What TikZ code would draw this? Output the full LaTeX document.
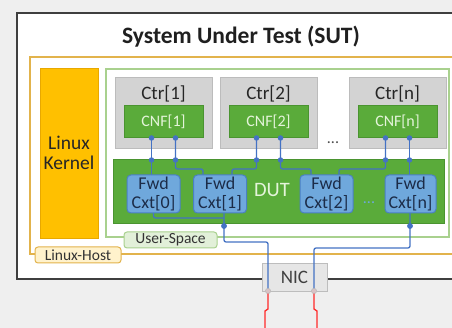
\documentclass[tikz,border=0pt]{standalone}
\usepackage{fontspec}
\setmainfont{Carlito}
\definecolor{bgc}{HTML}{EFEFEF}
\definecolor{sutc}{HTML}{3F3F3F}
\definecolor{hostc}{HTML}{E2B34C}
\definecolor{hostf}{HTML}{FFF2CC}
\definecolor{kernf}{HTML}{FFC000}
\definecolor{kernd}{HTML}{E8A800}
\definecolor{userc}{HTML}{A9D18E}
\definecolor{userf}{HTML}{E2F0D9}
\definecolor{dutf}{HTML}{5AAB3A}
\definecolor{dutd}{HTML}{4A9430}
\definecolor{ctrf}{HTML}{D3D3D3}
\definecolor{ctrd}{HTML}{BCBCBC}
\definecolor{cnft}{HTML}{E4F4DA}
\definecolor{fwdf}{HTML}{6FA8DC}
\definecolor{fwdd}{HTML}{4A80C4}
\definecolor{fwdt}{HTML}{1C2C48}
\definecolor{wirec}{HTML}{4472C4}
\definecolor{nicf}{HTML}{E6E6E6}
\definecolor{nicd}{HTML}{BDBDBD}
\definecolor{nicp}{HTML}{D9C3C6}
\definecolor{redc}{HTML}{FF2A2A}
\tikzset{
  box/.style={rectangle,inner sep=0pt},
  sutbox/.style={box,draw=sutc,line width=2pt,fill=white},
  hostbox/.style={box,draw=hostc,line width=1.3pt},
  kernbox/.style={box,draw=kernd,line width=0.8pt,fill=kernf,align=center,font=\fontsize{19.5}{20}\selectfont,text=black!85},
  userbox/.style={box,draw=userc,line width=1.3pt},
  tagbox/.style={box,rounded corners=3pt,line width=1pt,font=\fontsize{15.5}{16}\selectfont,text=black!80},
  ctrbox/.style={box,draw=ctrd,line width=1pt,fill=ctrf},
  ctrtext/.style={font=\fontsize{19}{19}\selectfont,text=black!85,inner sep=0pt},
  cnfbox/.style={box,draw=dutd,line width=1pt,fill=dutf,font=\fontsize{16}{16}\selectfont,text=cnft},
  dutbox/.style={box,draw=dutd,line width=1pt,fill=dutf},
  fwdbox/.style={box,draw=fwdd,line width=1pt,fill=fwdf,rounded corners=4pt,align=center,font=\fontsize{18}{19.5}\selectfont,text=fwdt,minimum height=38pt},
  nicbox/.style={box,draw=nicd,line width=1pt,fill=nicf,font=\fontsize{19}{20}\selectfont,text=black!75},
  port/.style={circle,fill=wirec,inner sep=0pt,minimum size=5.5pt},
  nport/.style={circle,fill=nicp,draw=nicd,line width=0.5pt,inner sep=0pt,minimum size=5pt},
  wire/.style={draw=wirec,line width=1.3pt,rounded corners=2pt},
  redwire/.style={draw=redc,line width=1.3pt},
  dots/.style={inner sep=0pt,font=\fontsize{16}{16}\selectfont}
}
\begin{document}
\begin{tikzpicture}[x=1pt,y=-1pt]
\useasboundingbox (0,0) rectangle (452,328);
\fill[bgc] (0,0) rectangle (452,328);
\begin{scope}
\clip (0,0) rectangle (452,328);
% SUT
\node[sutbox,minimum width=460pt,minimum height=266pt] (sut) at (247,146) {};
\node[font=\bfseries\fontsize{23.5}{24}\selectfont,text=black!88,inner sep=0pt] (title) at (241,37) {System Under Test (SUT)};
% Linux host
\node[hostbox,minimum width=450pt,minimum height=197pt] (host) at (255,155.5) {};
\node[kernbox,minimum width=58pt,minimum height=170pt] (kern) at (69,153) {Linux\\Kernel};
% user space
\node[userbox,minimum width=343pt,minimum height=168pt] (user) at (277.5,153) {};
% containers
\node[ctrbox,minimum width=97pt,minimum height=71pt] (ctr1) at (163.5,113.5) {};
\node[ctrbox,minimum width=97pt,minimum height=71pt] (ctr2) at (268.5,113.5) {};
\node[ctrbox,minimum width=97pt,minimum height=71pt] (ctrn) at (397.5,113.5) {};
\node[ctrtext] (ct1) at (163.5,94) {Ctr[1]};
\node[ctrtext] (ct2) at (268.5,94) {Ctr[2]};
\node[ctrtext] (ctn) at (397.5,94) {Ctr[n]};
\node[cnfbox,minimum width=79pt,minimum height=32pt] (cnf1) at (163.5,122) {CNF[1]};
\node[cnfbox,minimum width=79pt,minimum height=32pt] (cnf2) at (268.5,122) {CNF[2]};
\node[cnfbox,minimum width=79pt,minimum height=32pt] (cnfn) at (397.5,122) {CNF[n]};
\node[dots,text=black!70] (cdots) at (333,143) {...};
% DUT
\node[dutbox,minimum width=331pt,minimum height=64pt] (dut) at (278.5,192) {};
\node[inner sep=0pt,font=\fontsize{20.5}{20}\selectfont,text=cnft] (dutl) at (272,190) {DUT};
% ports
\node[port] (a1) at (151.5,138) {};
\node[port] (b1) at (175.5,138) {};
\node[port] (a2) at (256.5,138) {};
\node[port] (b2) at (280.5,138) {};
\node[port] (an) at (385.5,138) {};
\node[port] (bn) at (409.5,138) {};
\node[port] (da1) at (151.5,160) {};
\node[port] (db1) at (175.5,160) {};
\node[port] (da2) at (256.5,160) {};
\node[port] (db2) at (280.5,160) {};
\node[port] (dan) at (385.5,160) {};
\node[port] (dbn) at (409.5,160) {};
% Fwd contexts positions (coordinates for wiring)
\coordinate (f0) at (153.5,194);
\coordinate (f1) at (220,194);
\coordinate (f2) at (326.5,194);
\coordinate (fn) at (410.5,194);
% NIC
\node[nicbox,minimum width=65pt,minimum height=28pt] (nic) at (294.5,277.5) {NIC};
\node[nport] (n1) at (268,291) {};
\node[nport] (n2) at (314,291) {};
\node[port] (o1) at (224,226) {};
\node[port] (on) at (410,226) {};
% upper wires
\draw[wire] (a1.center) -- (da1.center) -- (151.5,176);
\draw[wire] (b1.center) -- (db1.center) -- (175.5,169) -- (203,169) -- (203,176);
\draw[wire] (a2.center) -- (da2.center) -- (256.5,169) -- (232,169) -- (232,176);
\draw[wire] (b2.center) -- (db2.center) -- (280.5,169) -- (311,169) -- (311,176);
\draw[wire] (an.center) -- (dan.center) -- (385.5,169) -- (339,169) -- (339,176);
\draw[wire] (bn.center) -- (dbn.center) -- (409.5,176);
% lower wires
\draw[wire] (153.5,212) -- (153.5,218) -- (224,218);
\draw[wire] (224,212) -- (o1.center) -- (224,242) -- (268,242) -- (n1.center);
\draw[wire] (410,212) -- (on.center) -- (410,248) -- (314,248) -- (n2.center);
% Fwd boxes
\node[fwdbox,minimum width=53pt] (x0) at (f0) {Fwd\\Cxt[0]};
\node[fwdbox,minimum width=53pt] (x1) at (f1) {Fwd\\Cxt[1]};
\node[fwdbox,minimum width=53pt] (x2) at (f2) {Fwd\\Cxt[2]};
\node[fwdbox,minimum width=51pt] (xn) at (fn) {Fwd\\Cxt[n]};
\node[dots,text=fwdf] (fdots) at (369,203) {...};
\node[port] at (o1) {};
\node[port] at (on) {};
\node[nport] at (n1) {};
\node[nport] at (n2) {};
% tags
\node[tagbox,draw=userc,fill=userf,minimum width=93pt,minimum height=16pt] (usert) at (170.5,240) {User-Space};
\node[tagbox,draw=hostc,fill=hostf,minimum width=86pt,minimum height=16pt] (hostt) at (78,255) {Linux-Host};
% red wires
\draw[redwire] (n1.south) -- (268,309) -- (265,311) -- (265,330);
\draw[redwire] (n2.south) -- (314,309) -- (317,311) -- (317,330);
\end{scope}
\end{tikzpicture}
\end{document}
